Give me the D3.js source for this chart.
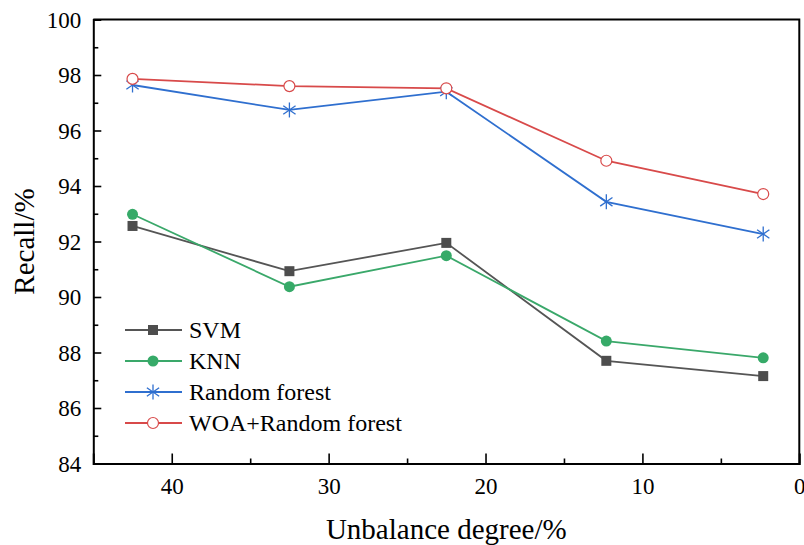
<!DOCTYPE html>
<html lang="en">
<head>
    <meta charset="UTF-8">
    <title>Recall vs unbalance degree</title>
    <script src="https://d3js.org/d3.v7.min.js"></script>
    <style>
        body { margin: 0; background: #fff; }
        svg text { font-family: "Liberation Serif", "Times New Roman", serif; fill: #000; }
        .tick text { font-size: 23px; }
        .axis .domain { stroke: #000; stroke-width: 2; }
        .tick line { stroke: #000; stroke-width: 1.6; }
        .title { font-size: 29px; text-anchor: middle; }
        .legend text { font-size: 24px; }
    </style>
</head>
<body>
<script>
    const width = 804, height = 545;
    const plotLeft = 93.3, plotRight = 799.3, plotTop = 19.5, plotBottom = 463.5;
    const serif = "'Liberation Serif', 'Times New Roman', serif";

    const degrees = [42.5, 32.5, 22.5, 12.3, 2.3];
    const svm = [92.56, 90.93, 91.95, 87.70, 87.15];
    const knn = [92.98, 90.37, 91.49, 88.41, 87.81];
    const rf  = [97.64, 96.74, 97.40, 93.43, 92.27];
    const woa = [97.86, 97.60, 97.52, 94.91, 93.71];
    const xTicks = [40, 30, 20, 10, 0];
    const yTicks = [84, 86, 88, 90, 92, 94, 96, 98, 100];

    const series = [
        {name: "SVM", values: svm, color: "#555555", marker: "square"},
        {name: "KNN", values: knn, color: "#3aa86a", marker: "dot"},
        {name: "Random forest", values: rf, color: "#2f6fcf", marker: "star"},
        {name: "WOA+Random forest", values: woa, color: "#d84a4a", marker: "circle"}
    ];

    const x = d3.scaleLinear().domain([45, 0]).range([plotLeft, plotRight]);
    const y = d3.scaleLinear().domain([84, 100]).range([plotBottom, plotTop]);

    const svg = d3.select("body").append("svg")
        .attr("width", width).attr("height", height);

    // frame (top and right lines)
    svg.append("path")
        .attr("d", `M${plotLeft},${plotTop}H${plotRight}V${plotBottom}`)
        .attr("fill", "none").attr("stroke", "#000").attr("stroke-width", 2);

    // minor ticks first, then the labelled axes on top
    svg.append("g").attr("class", "axis")
        .attr("transform", `translate(0,${plotBottom})`)
        .call(d3.axisTop(x).tickValues([35, 25, 15, 5]).tickSize(5).tickFormat(""))
        .select(".domain").remove();
    svg.append("g").attr("class", "axis")
        .attr("transform", `translate(${plotLeft},0)`)
        .call(d3.axisRight(y).tickValues([85, 87, 89, 91, 93, 95, 97, 99]).tickSize(5).tickFormat(""))
        .select(".domain").remove();

    const gx = svg.append("g").attr("class", "axis")
        .attr("transform", `translate(0,${plotBottom})`)
        .call(d3.axisTop(x).tickValues(xTicks).tickSizeOuter(0).tickSize(10).tickFormat(d3.format("d")))
        .attr("font-family", serif).attr("font-size", 23);
    gx.selectAll(".tick text").attr("y", 30).attr("dy", 0).style("font-family", serif);
    gx.selectAll(".tick").filter(d => d === 0).select("line").remove();

    const gy = svg.append("g").attr("class", "axis")
        .attr("transform", `translate(${plotLeft},0)`)
        .call(d3.axisRight(y).tickValues(yTicks).tickSizeOuter(0).tickSize(8).tickFormat(d3.format("d")))
        .attr("font-family", serif).attr("font-size", 23);
    gy.selectAll(".tick text").attr("x", -12).attr("text-anchor", "end").attr("dy", "0.34em")
        .style("font-family", serif);
    gy.selectAll(".tick").filter(d => d === 84 || d === 100).select("line").remove();

    // titles
    svg.append("text").attr("class", "title")
        .attr("x", (plotLeft + plotRight) / 2).attr("y", 539)
        .text("Unbalance degree/%");
    svg.append("text").attr("class", "title")
        .attr("transform", `translate(34,${(plotTop + plotBottom) / 2}) rotate(-90)`)
        .text("Recall/%");

    function drawMarker(g, s) {
        if (s.marker === "square") {
            g.append("rect").attr("x", -5).attr("y", -5).attr("width", 10).attr("height", 10)
                .attr("fill", "#4d4d4d");
        } else if (s.marker === "dot") {
            g.append("circle").attr("r", 5.5).attr("fill", "#36aa68");
        } else if (s.marker === "circle") {
            g.append("circle").attr("r", 5.5).attr("fill", "#fff")
                .attr("stroke", s.color).attr("stroke-width", 1.2);
        } else {
            const r = 7.5;
            [90, 35, 145].forEach(a => {
                const dx = r * Math.cos(a * Math.PI / 180), dy = r * Math.sin(a * Math.PI / 180);
                g.append("line").attr("x1", -dx).attr("y1", -dy).attr("x2", dx).attr("y2", dy)
                    .attr("stroke", s.color).attr("stroke-width", 1.3);
            });
        }
    }

    const line = d3.line().x((d, i) => x(degrees[i])).y(d => y(d));

    series.forEach(s => {
        svg.append("path").datum(s.values)
            .attr("d", line)
            .attr("fill", "none").attr("stroke", s.color).attr("stroke-width", 1.8);
    });
    series.forEach(s => {
        s.values.forEach((v, i) => {
            const g = svg.append("g").attr("transform", `translate(${x(degrees[i])},${y(v)})`);
            drawMarker(g, s);
        });
    });

    // legend
    const legend = svg.append("g").attr("class", "legend");
    const rowY = [330, 361, 392, 423];
    series.forEach((s, i) => {
        const g = legend.append("g").attr("transform", `translate(0,${rowY[i]})`);
        g.append("line").attr("x1", 125).attr("x2", 182).attr("y1", 0).attr("y2", 0)
            .attr("stroke", s.color).attr("stroke-width", 1.8);
        drawMarker(g.append("g").attr("transform", "translate(153,0)"), s);
        g.append("text").attr("x", 189).attr("y", 0).attr("dy", "0.35em").text(s.name);
    });
</script>
</body>
</html>
